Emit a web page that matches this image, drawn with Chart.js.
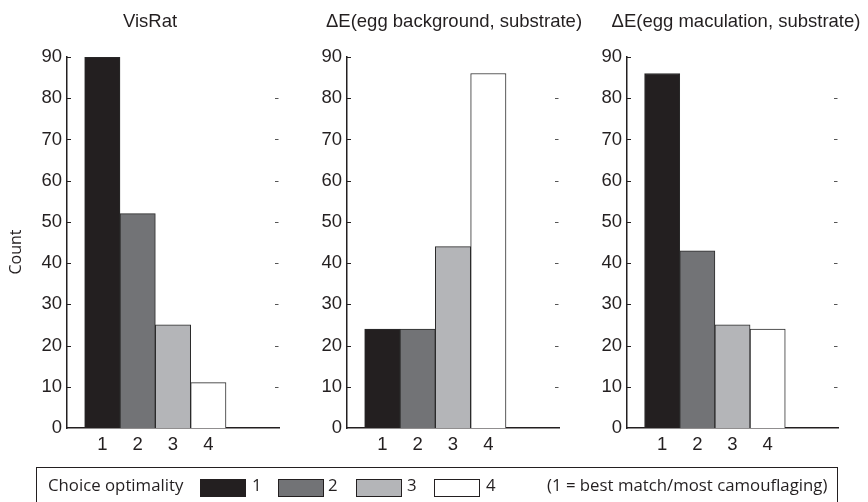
<!DOCTYPE html>
<html>
<head>
<meta charset="utf-8">
<script src="https://cdn.jsdelivr.net/npm/chart.js@4"></script>
<style>
  html, body { margin: 0; padding: 0; background: #fff; }
  #wrap { position: relative; width: 868px; height: 502px; overflow: hidden; }
  .panel { position: absolute; top: 0; left: 0; width: 868px; height: 465px; }
  #legend {
    position: absolute; left: 36px; top: 467px; width: 802px; height: 45px;
    border: 1.3px solid #231f20; box-sizing: border-box;
    font-family: "Open Sans", sans-serif; font-size: 16.8px; color: #231f20;
  }
  #legend span { position: absolute; top: 7px; line-height: 20px; }
  #legend .sw { position: absolute; top: 11px; width: 46px; height: 18px; box-sizing: border-box; border: 1px solid #231f20; }
</style>
</head>
<body>
<div id="wrap">
  <div class="panel"><canvas id="c1"></canvas></div>
  <div class="panel"><canvas id="c2"></canvas></div>
  <div class="panel"><canvas id="c3"></canvas></div>
  <div id="legend"></div>
</div>
<script>
// ==========================
// Data
// ==========================
const categories = [1, 2, 3, 4];
const visRatCounts = [90, 52, 25, 11];
const bgCounts = [24, 24, 44, 86];
const macCounts = [86, 43, 25, 24];
const panelTitles = [
    "VisRat",
    "\u0394E(egg background, substrate)",
    "\u0394E(egg maculation, substrate)"
];
const yLabel = "Count";
const legendTitle = "Choice optimality";
const legendNote = "(1 = best match/most camouflaging)";

const barColors = ["#231f20", "#727376", "#b4b5b8", "#ffffff"];
const ink = "#231f20";
const tickFont = { family: "'Liberation Sans', Arial, sans-serif", size: 18.5 };


// inward tick marks (left) and little dashes on the right, like the MATLAB box
const boxTicks = {
    id: "boxTicks",
    afterDraw(chart) {
        const { ctx, chartArea, scales } = chart;
        const y = scales.y;
        ctx.save();
        ctx.lineWidth = 1;
        for (let v = 10; v <= 90; v += 10) {
            const py = Math.round(y.getPixelForValue(v)) + 0.5;
            ctx.strokeStyle = ink;
            ctx.beginPath();
            ctx.moveTo(chartArea.left, py);
            ctx.lineTo(chartArea.left + 4, py);
            ctx.stroke();
            if (v < 90) {
                ctx.strokeStyle = "#555";
                ctx.beginPath();
                ctx.moveTo(chartArea.right - 4, py);
                ctx.lineTo(chartArea.right - 0.5, py);
                ctx.stroke();
            }
        }
        ctx.restore();
    }
};

// panel title + optional y label
const panelText = {
    id: "panelText",
    afterDraw(chart, args, opts) {
        const ctx = chart.ctx;
        ctx.save();
        ctx.fillStyle = ink;
        ctx.font = "18.5px 'Liberation Sans', Arial, sans-serif";
        ctx.textAlign = "center";
        ctx.textBaseline = "middle";
        ctx.fillText(opts.title, opts.titleX, 22);
        if (opts.yLabel) {
            ctx.font = "16px 'Open Sans', sans-serif";
            ctx.translate(16, 252);
            ctx.rotate(-Math.PI / 2);
            ctx.fillText(opts.yLabel, 0, 0);
        }
        ctx.restore();
    }
};


// every panel gets a full-size transparent canvas; padding puts its plot box in place
function buildPanel(canvasId, counts, title, titleX, axisLeft, axisRight, showYLabel) {
    const canvas = document.getElementById(canvasId);
    return new Chart(canvas, {
        type: "bar",
        data: {
            datasets: [{
                data: categories.map((c, i) => ({ x: c, y: counts[i] })),
                backgroundColor: barColors,
                borderColor: "#2b2b2b",
                borderWidth: 1,
                borderSkipped: "bottom",
                barPercentage: 1,
                categoryPercentage: 1
            }]
        },
        options: {
            responsive: true,
            maintainAspectRatio: false,
            animation: false,
            layout: { padding: { left: axisLeft - 45, right: 868 - axisRight, top: 57, bottom: 2 } },
            plugins: {
                legend: { display: false },
                tooltip: { enabled: false },
                panelText: { title: title, titleX: titleX, yLabel: showYLabel ? yLabel : null }
            },
            scales: {
                x: {
                    type: "linear",
                    min: 0,
                    max: 6,
                    offset: false,
                    afterBuildTicks: s => { s.ticks = categories.map(v => ({ value: v })); },
                    afterFit: s => { s.height = 35; },
                    grid: { display: false, drawTicks: false },
                    border: { display: true, color: ink, width: 1.5 },
                    ticks: { color: ink, font: tickFont, padding: 6, maxRotation: 0 }
                },
                y: {
                    min: 0,
                    max: 90,
                    afterFit: s => { s.width = 45; },
                    grid: { display: false, drawTicks: false },
                    border: { display: true, color: ink, width: 1.5 },
                    ticks: { stepSize: 10, color: ink, font: tickFont, padding: 5 }
                }
            }
        },
        plugins: [boxTicks, panelText]
    });
}

buildPanel("c1", visRatCounts, panelTitles[0], 150, 67, 279, true);
buildPanel("c2", bgCounts, panelTitles[1], 454, 347, 559, false);
buildPanel("c3", macCounts, panelTitles[2], 736, 627, 838, false);


// legend strip under the panels
const legend = document.getElementById("legend");
const legendLeft = 36;
const swatchX = [200, 278, 356, 434];
const labelX = [252, 328, 407, 486];

function addSpan(text, x) {
    const s = document.createElement("span");
    s.textContent = text;
    s.style.left = (x - legendLeft - 1) + "px";
    legend.appendChild(s);
}

addSpan(legendTitle, 48);
categories.forEach((c, i) => {
    const sw = document.createElement("div");
    sw.className = "sw";
    sw.style.left = (swatchX[i] - legendLeft - 1) + "px";
    sw.style.background = barColors[i];
    legend.appendChild(sw);
    addSpan(String(c), labelX[i]);
});
addSpan(legendNote, 547);
</script>
</body>
</html>
